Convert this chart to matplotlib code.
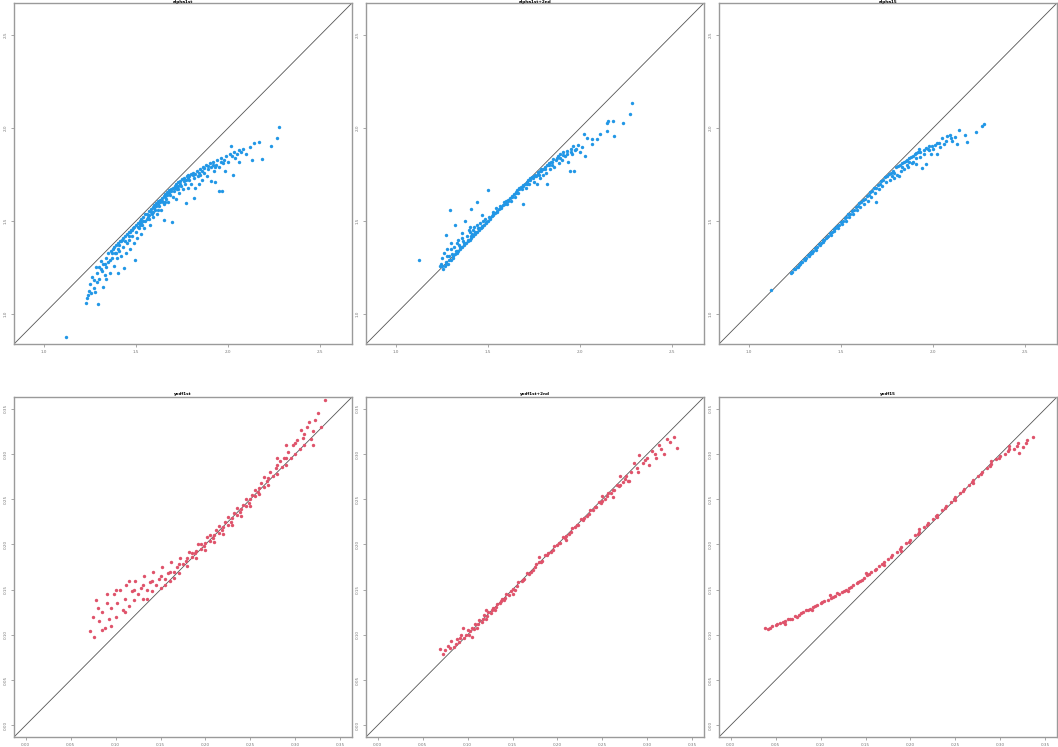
import matplotlib
matplotlib.use("Agg")
import matplotlib.pyplot as plt
import numpy as np

# values (estimated x, y pairs)
alpha1st = [
    (1.123, 0.876), (1.228, 1.06), (1.234, 1.084), (1.246, 1.124), (1.255, 1.115), (1.27, 1.18),
    (1.283, 1.253), (1.292, 1.055), (1.31, 1.285), (1.319, 1.145), (1.26, 1.20), (1.275, 1.14),
    (1.29, 1.22), (1.30, 1.19), (1.30, 1.25), (1.315, 1.23), (1.32, 1.27), (1.33, 1.21),
    (1.335, 1.30), (1.34, 1.25), (1.35, 1.33), (1.35, 1.28), (1.36, 1.22), (1.365, 1.34),
    (1.37, 1.30), (1.375, 1.35), (1.38, 1.26), (1.385, 1.33), (1.39, 1.37), (1.395, 1.30),
    (1.40, 1.38), (1.404, 1.22), (1.41, 1.34), (1.415, 1.39), (1.42, 1.31), (1.425, 1.40),
    (1.43, 1.36), (1.436, 1.249), (1.44, 1.42), (1.445, 1.33), (1.45, 1.43), (1.45, 1.38),
    (1.46, 1.44), (1.465, 1.40), (1.47, 1.35), (1.475, 1.45), (1.48, 1.42), (1.485, 1.46),
    (1.49, 1.38), (1.495, 1.289), (1.50, 1.48), (1.50, 1.44), (1.505, 1.41), (1.51, 1.49),
    (1.515, 1.46), (1.52, 1.50), (1.525, 1.43), (1.53, 1.51), (1.535, 1.48), (1.54, 1.52),
    (1.545, 1.46), (1.55, 1.535), (1.55, 1.50), (1.56, 1.54), (1.565, 1.52), (1.57, 1.555),
    (1.575, 1.48), (1.58, 1.565), (1.585, 1.54), (1.59, 1.575), (1.595, 1.52), (1.60, 1.585),
    (1.605, 1.56), (1.61, 1.595), (1.615, 1.54), (1.62, 1.605), (1.625, 1.58), (1.63, 1.615),
    (1.635, 1.56), (1.64, 1.625), (1.645, 1.60), (1.65, 1.507), (1.65, 1.635), (1.655, 1.59),
    (1.66, 1.645), (1.665, 1.62), (1.67, 1.655), (1.675, 1.60), (1.68, 1.665), (1.685, 1.64),
    (1.69, 1.672), (1.694, 1.496), (1.70, 1.68), (1.70, 1.63), (1.705, 1.66), (1.71, 1.69),
    (1.715, 1.62), (1.72, 1.70), (1.725, 1.67), (1.73, 1.71), (1.735, 1.65), (1.74, 1.715),
    (1.745, 1.69), (1.75, 1.725), (1.755, 1.67), (1.76, 1.73), (1.765, 1.70), (1.772, 1.598),
    (1.775, 1.74), (1.78, 1.68), (1.785, 1.745), (1.79, 1.72), (1.80, 1.755), (1.80, 1.70),
    (1.81, 1.76), (1.815, 1.73), (1.817, 1.625), (1.82, 1.68), (1.83, 1.77), (1.835, 1.74),
    (1.84, 1.70), (1.85, 1.78), (1.85, 1.75), (1.86, 1.72), (1.865, 1.79), (1.87, 1.76),
    (1.88, 1.80), (1.885, 1.74), (1.89, 1.78), (1.90, 1.81), (1.91, 1.715), (1.91, 1.79),
    (1.92, 1.82), (1.925, 1.77), (1.93, 1.711), (1.935, 1.80), (1.94, 1.83), (1.95, 1.66),
    (1.95, 1.79), (1.96, 1.84), (1.966, 1.66), (1.97, 1.81), (1.984, 1.769), (1.99, 1.85),
    (2.00, 1.82), (2.016, 1.905), (2.027, 1.747), (2.03, 1.87), (2.04, 1.84), (2.058, 1.817),
    (2.06, 1.88), (2.08, 1.89), (2.10, 1.86), (2.13, 1.826), (2.14, 1.921), (2.17, 1.927),
    (2.183, 1.835), (2.234, 1.905), (2.266, 1.948), (2.279, 2.007),
    (1.24, 1.10), (1.25, 1.16), (1.28, 1.12), (1.29, 1.17), (1.31, 1.24), (1.33, 1.27),
    (1.34, 1.19), (1.36, 1.29), (1.37, 1.33), (1.38, 1.36), (1.39, 1.33), (1.40, 1.35),
    (1.41, 1.37), (1.42, 1.39), (1.43, 1.41), (1.44, 1.39), (1.46, 1.42), (1.47, 1.44),
    (1.48, 1.45), (1.49, 1.47), (1.51, 1.47), (1.52, 1.48), (1.53, 1.49), (1.54, 1.50),
    (1.56, 1.51), (1.57, 1.53), (1.58, 1.55), (1.59, 1.55), (1.60, 1.57), (1.61, 1.58),
    (1.62, 1.59), (1.63, 1.60), (1.64, 1.61), (1.66, 1.63), (1.67, 1.64), (1.68, 1.65),
    (1.69, 1.66), (1.71, 1.675), (1.72, 1.685), (1.73, 1.69), (1.74, 1.70), (1.76, 1.715),
    (1.77, 1.72), (1.78, 1.73), (1.79, 1.74), (1.81, 1.745), (1.82, 1.755), (1.84, 1.76),
    (1.86, 1.77), (1.87, 1.785), (1.89, 1.795), (1.92, 1.80), (1.93, 1.79), (1.96, 1.82),
    (1.98, 1.83), (2.01, 1.86), (2.02, 1.85), (2.05, 1.86), (2.07, 1.87), (2.12, 1.90),
    (1.57, 1.51), (1.62, 1.56), (1.66, 1.60), (1.73, 1.67),
]

alpha1st2nd = [
    (1.127, 1.292), (1.239, 1.258), (1.245, 1.27), (1.25, 1.30), (1.255, 1.24), (1.26, 1.33),
    (1.265, 1.26), (1.272, 1.425), (1.275, 1.28), (1.28, 1.35), (1.285, 1.27), (1.293, 1.557),
    (1.29, 1.31), (1.30, 1.29), (1.30, 1.38), (1.305, 1.32), (1.31, 1.30), (1.315, 1.36),
    (1.32, 1.478), (1.32, 1.32), (1.325, 1.34), (1.33, 1.33), (1.335, 1.40), (1.34, 1.34),
    (1.345, 1.37), (1.35, 1.35), (1.357, 1.437), (1.36, 1.36), (1.365, 1.39), (1.37, 1.37),
    (1.375, 1.50), (1.38, 1.38), (1.385, 1.42), (1.39, 1.39), (1.395, 1.45), (1.40, 1.40),
    (1.402, 1.468), (1.406, 1.563), (1.41, 1.41), (1.415, 1.43), (1.42, 1.42), (1.425, 1.47),
    (1.43, 1.43), (1.438, 1.604), (1.44, 1.44), (1.445, 1.46), (1.45, 1.45), (1.455, 1.49),
    (1.46, 1.46), (1.466, 1.532), (1.47, 1.47), (1.475, 1.50), (1.48, 1.48), (1.485, 1.51),
    (1.49, 1.49), (1.498, 1.665), (1.50, 1.50), (1.505, 1.52), (1.51, 1.51), (1.52, 1.525),
    (1.525, 1.55), (1.53, 1.535), (1.54, 1.545), (1.545, 1.57), (1.55, 1.555), (1.56, 1.565),
    (1.565, 1.58), (1.57, 1.575), (1.58, 1.585), (1.585, 1.60), (1.59, 1.595), (1.60, 1.605),
    (1.605, 1.59), (1.61, 1.615), (1.62, 1.625), (1.625, 1.61), (1.63, 1.635), (1.64, 1.645),
    (1.645, 1.63), (1.65, 1.655), (1.66, 1.665), (1.665, 1.65), (1.67, 1.675), (1.68, 1.685),
    (1.685, 1.67), (1.692, 1.59), (1.69, 1.695), (1.70, 1.70), (1.705, 1.68), (1.71, 1.71),
    (1.72, 1.72), (1.725, 1.70), (1.73, 1.73), (1.74, 1.735), (1.746, 1.73), (1.75, 1.71),
    (1.755, 1.75), (1.76, 1.74), (1.765, 1.70), (1.77, 1.765), (1.775, 1.745), (1.78, 1.77),
    (1.785, 1.73), (1.79, 1.78), (1.80, 1.778), (1.80, 1.75), (1.81, 1.79), (1.815, 1.76),
    (1.819, 1.70), (1.82, 1.80), (1.83, 1.81), (1.835, 1.78), (1.84, 1.82), (1.85, 1.80),
    (1.855, 1.835), (1.86, 1.79), (1.873, 1.84), (1.88, 1.85), (1.885, 1.81), (1.89, 1.86),
    (1.90, 1.83), (1.91, 1.87), (1.92, 1.85), (1.928, 1.876), (1.935, 1.82), (1.946, 1.769),
    (1.95, 1.89), (1.955, 1.86), (1.964, 1.903), (1.968, 1.769), (1.975, 1.88), (1.99, 1.91),
    (2.00, 1.87), (2.023, 1.969), (2.027, 1.848), (2.036, 1.948), (2.064, 1.912), (2.064, 1.939),
    (2.09, 1.943), (2.109, 1.969), (2.145, 1.984), (2.145, 2.025), (2.15, 2.038), (2.178, 2.038),
    (2.187, 1.957), (2.235, 2.029), (2.272, 2.077), (2.281, 2.133),
    (1.25, 1.26), (1.27, 1.27), (1.29, 1.29), (1.31, 1.31), (1.33, 1.34), (1.35, 1.36),
    (1.37, 1.38), (1.39, 1.40), (1.41, 1.42), (1.43, 1.44), (1.45, 1.46), (1.47, 1.475),
    (1.49, 1.495), (1.51, 1.515), (1.53, 1.53), (1.55, 1.55), (1.57, 1.57), (1.59, 1.59),
    (1.61, 1.61), (1.63, 1.63), (1.65, 1.65), (1.67, 1.67), (1.69, 1.69), (1.71, 1.70),
    (1.73, 1.72), (1.75, 1.74), (1.77, 1.755), (1.79, 1.77), (1.81, 1.78), (1.83, 1.80),
    (1.85, 1.82), (1.87, 1.83), (1.89, 1.84), (1.91, 1.855), (1.93, 1.86), (1.95, 1.87),
    (1.98, 1.89), (2.01, 1.90), (1.33, 1.38), (1.36, 1.41), (1.40, 1.44), (1.44, 1.48),
    (1.28, 1.31), (1.30, 1.35), (1.42, 1.45),
]

alpha15 = [
    (1.123, 1.129), (1.227, 1.222), (1.235, 1.225), (1.245, 1.24), (1.25, 1.24), (1.26, 1.255),
    (1.265, 1.25), (1.27, 1.265), (1.28, 1.27), (1.285, 1.28), (1.29, 1.28), (1.30, 1.295),
    (1.305, 1.29), (1.31, 1.30), (1.32, 1.315), (1.325, 1.31), (1.33, 1.32), (1.34, 1.335),
    (1.345, 1.33), (1.35, 1.34), (1.36, 1.355), (1.365, 1.345), (1.37, 1.36), (1.38, 1.375),
    (1.385, 1.37), (1.39, 1.38), (1.40, 1.395), (1.405, 1.385), (1.41, 1.40), (1.42, 1.41),
    (1.425, 1.415), (1.43, 1.42), (1.44, 1.435), (1.445, 1.425), (1.45, 1.44), (1.46, 1.455),
    (1.465, 1.445), (1.47, 1.46), (1.48, 1.475), (1.485, 1.46), (1.49, 1.48), (1.50, 1.495),
    (1.505, 1.485), (1.51, 1.50), (1.52, 1.515), (1.525, 1.50), (1.53, 1.52), (1.54, 1.535),
    (1.545, 1.52), (1.55, 1.54), (1.56, 1.555), (1.565, 1.54), (1.57, 1.56), (1.58, 1.575),
    (1.585, 1.56), (1.59, 1.58), (1.60, 1.595), (1.605, 1.575), (1.61, 1.60), (1.62, 1.615),
    (1.625, 1.59), (1.63, 1.62), (1.64, 1.635), (1.645, 1.61), (1.65, 1.64), (1.66, 1.655),
    (1.665, 1.63), (1.67, 1.66), (1.68, 1.675), (1.685, 1.65), (1.689, 1.602), (1.69, 1.68),
    (1.70, 1.695), (1.705, 1.67), (1.71, 1.70), (1.72, 1.715), (1.725, 1.69), (1.73, 1.72),
    (1.74, 1.735), (1.745, 1.71), (1.75, 1.74), (1.76, 1.755), (1.765, 1.72), (1.77, 1.76),
    (1.775, 1.74), (1.78, 1.77), (1.788, 1.76), (1.79, 1.73), (1.80, 1.79), (1.805, 1.75),
    (1.81, 1.795), (1.815, 1.742), (1.82, 1.80), (1.825, 1.77), (1.83, 1.81), (1.84, 1.78),
    (1.845, 1.82), (1.851, 1.823), (1.86, 1.83), (1.865, 1.79), (1.87, 1.84), (1.88, 1.845),
    (1.885, 1.81), (1.89, 1.85), (1.90, 1.86), (1.906, 1.805), (1.91, 1.865), (1.92, 1.87),
    (1.924, 1.885), (1.93, 1.845), (1.942, 1.787), (1.95, 1.88), (1.96, 1.805), (1.96, 1.894),
    (1.97, 1.89), (1.978, 1.903), (1.987, 1.859), (1.995, 1.905), (2.01, 1.91), (2.024, 1.862),
    (2.033, 1.921), (2.047, 1.945), (2.06, 1.916), (2.078, 1.957), (2.096, 1.948), (2.105, 1.93),
    (2.132, 1.916), (2.141, 1.989), (2.172, 1.962), (2.185, 1.925), (2.232, 1.978), (2.264, 2.011),
    (2.277, 2.02),
    (1.86, 1.80), (1.89, 1.82), (1.93, 1.87), (1.95, 1.86), (1.98, 1.88), (2.00, 1.89),
    (2.02, 1.92), (2.04, 1.90), (2.07, 1.93), (2.09, 1.96), (2.12, 1.95), (1.83, 1.79),
    (1.87, 1.82), (1.91, 1.84),
]

yodf1st = [
    (0.072, 0.104), (0.076, 0.098), (0.078, 0.138), (0.082, 0.115), (0.085, 0.125), (0.088, 0.108),
    (0.09, 0.135), (0.093, 0.118), (0.095, 0.13), (0.098, 0.145), (0.10, 0.12), (0.102, 0.135),
    (0.105, 0.15), (0.108, 0.128), (0.11, 0.14), (0.112, 0.155), (0.115, 0.132), (0.118, 0.148),
    (0.12, 0.138), (0.122, 0.16), (0.125, 0.145), (0.128, 0.152), (0.13, 0.14), (0.132, 0.165),
    (0.135, 0.15), (0.138, 0.158), (0.14, 0.148), (0.142, 0.17), (0.145, 0.155), (0.148, 0.162),
    (0.15, 0.152), (0.152, 0.175), (0.155, 0.162), (0.158, 0.168), (0.16, 0.16), (0.162, 0.18),
    (0.165, 0.17), (0.168, 0.175), (0.17, 0.168), (0.172, 0.185), (0.175, 0.178), (0.178, 0.182),
    (0.18, 0.176), (0.182, 0.192), (0.185, 0.186), (0.188, 0.19), (0.19, 0.185), (0.192, 0.2),
    (0.195, 0.195), (0.198, 0.198), (0.20, 0.194), (0.202, 0.208), (0.205, 0.204), (0.208, 0.207),
    (0.21, 0.203), (0.212, 0.216), (0.215, 0.213), (0.218, 0.216), (0.22, 0.212), (0.222, 0.225),
    (0.225, 0.222), (0.228, 0.225), (0.23, 0.222), (0.232, 0.235), (0.235, 0.232), (0.238, 0.236),
    (0.24, 0.231), (0.242, 0.244), (0.245, 0.242), (0.248, 0.246), (0.25, 0.243), (0.252, 0.255),
    (0.255, 0.253), (0.258, 0.258), (0.26, 0.256), (0.262, 0.268), (0.265, 0.264), (0.268, 0.27),
    (0.27, 0.266), (0.272, 0.28), (0.275, 0.276), (0.278, 0.284), (0.28, 0.278), (0.283, 0.292),
    (0.285, 0.286), (0.287, 0.296), (0.29, 0.288), (0.292, 0.302), (0.295, 0.295), (0.297, 0.31),
    (0.30, 0.30), (0.302, 0.315), (0.305, 0.306), (0.306, 0.327), (0.308, 0.318), (0.31, 0.31),
    (0.313, 0.33), (0.317, 0.316), (0.32, 0.325), (0.322, 0.338), (0.333, 0.36),
    (0.075, 0.12), (0.08, 0.13), (0.085, 0.105), (0.09, 0.145), (0.095, 0.11), (0.10, 0.15),
    (0.11, 0.125), (0.115, 0.16), (0.12, 0.15), (0.13, 0.155), (0.135, 0.14), (0.14, 0.16),
    (0.15, 0.165), (0.155, 0.155), (0.16, 0.17), (0.165, 0.163), (0.17, 0.178), (0.18, 0.185),
    (0.19, 0.193), (0.20, 0.202), (0.21, 0.21), (0.22, 0.219), (0.23, 0.229), (0.24, 0.239),
    (0.25, 0.25), (0.26, 0.262), (0.27, 0.273), (0.28, 0.288), (0.29, 0.296), (0.30, 0.312),
    (0.31, 0.322), (0.315, 0.335), (0.32, 0.31), (0.325, 0.345), (0.328, 0.33), (0.29, 0.31),
    (0.28, 0.295), (0.265, 0.275), (0.255, 0.26), (0.245, 0.25), (0.235, 0.24), (0.225, 0.23),
    (0.215, 0.22), (0.205, 0.21), (0.195, 0.20), (0.185, 0.19),
]

yodf1st2nd = [
    (0.069, 0.084), (0.073, 0.079), (0.078, 0.088), (0.082, 0.093), (0.085, 0.087), (0.088, 0.095),
    (0.09, 0.092), (0.093, 0.10), (0.095, 0.108), (0.096, 0.097), (0.10, 0.105), (0.102, 0.10),
    (0.105, 0.108), (0.105, 0.098), (0.108, 0.112), (0.11, 0.108), (0.113, 0.116), (0.116, 0.114),
    (0.118, 0.122), (0.12, 0.118), (0.12, 0.128), (0.123, 0.125), (0.126, 0.124), (0.128, 0.13),
    (0.13, 0.128), (0.133, 0.134), (0.136, 0.135), (0.138, 0.14), (0.14, 0.138), (0.143, 0.145),
    (0.146, 0.144), (0.15, 0.151), (0.15, 0.145), (0.153, 0.15), (0.156, 0.158), (0.16, 0.16),
    (0.163, 0.162), (0.166, 0.168), (0.17, 0.17), (0.173, 0.172), (0.176, 0.178), (0.18, 0.18),
    (0.18, 0.186), (0.183, 0.182), (0.186, 0.188), (0.19, 0.19), (0.193, 0.192), (0.196, 0.198),
    (0.20, 0.199), (0.203, 0.202), (0.206, 0.208), (0.21, 0.209), (0.21, 0.205), (0.213, 0.212),
    (0.216, 0.218), (0.22, 0.219), (0.223, 0.221), (0.226, 0.228), (0.23, 0.229), (0.233, 0.231),
    (0.236, 0.238), (0.24, 0.238), (0.243, 0.241), (0.246, 0.247), (0.25, 0.248), (0.25, 0.254),
    (0.253, 0.25), (0.256, 0.257), (0.26, 0.257), (0.262, 0.252), (0.263, 0.26), (0.266, 0.266),
    (0.27, 0.266), (0.27, 0.276), (0.273, 0.269), (0.276, 0.276), (0.278, 0.27), (0.28, 0.27),
    (0.285, 0.29), (0.29, 0.28), (0.291, 0.299), (0.295, 0.29), (0.30, 0.295), (0.302, 0.288),
    (0.305, 0.303), (0.31, 0.296), (0.313, 0.31), (0.318, 0.30), (0.322, 0.316), (0.33, 0.319),
    (0.333, 0.307),
    (0.075, 0.083), (0.08, 0.085), (0.087, 0.09), (0.092, 0.096), (0.098, 0.10), (0.103, 0.104),
    (0.107, 0.106), (0.112, 0.112), (0.117, 0.118), (0.122, 0.121), (0.127, 0.128), (0.132, 0.131),
    (0.137, 0.137), (0.142, 0.141), (0.148, 0.148), (0.155, 0.154), (0.162, 0.161), (0.168, 0.167),
    (0.175, 0.175), (0.182, 0.181), (0.188, 0.188), (0.195, 0.194), (0.202, 0.201), (0.208, 0.207),
    (0.215, 0.214), (0.222, 0.221), (0.228, 0.227), (0.235, 0.234), (0.242, 0.241), (0.248, 0.246),
    (0.255, 0.253), (0.262, 0.26), (0.268, 0.265), (0.275, 0.272), (0.282, 0.28), (0.288, 0.284),
    (0.297, 0.293), (0.308, 0.30), (0.315, 0.305), (0.325, 0.313),
]

yodf15 = [
    (0.038, 0.108), (0.042, 0.106), (0.046, 0.11), (0.05, 0.111), (0.055, 0.113), (0.06, 0.115),
    (0.064, 0.117), (0.068, 0.118), (0.072, 0.121), (0.076, 0.122), (0.08, 0.125), (0.084, 0.127),
    (0.088, 0.129), (0.092, 0.131), (0.096, 0.133), (0.10, 0.135), (0.104, 0.137), (0.108, 0.139),
    (0.112, 0.141), (0.116, 0.143), (0.12, 0.145), (0.124, 0.147), (0.128, 0.15), (0.132, 0.152),
    (0.136, 0.155), (0.14, 0.157), (0.144, 0.16), (0.148, 0.163), (0.152, 0.166), (0.156, 0.169),
    (0.16, 0.172), (0.165, 0.176), (0.17, 0.18), (0.175, 0.184), (0.18, 0.188), (0.185, 0.192),
    (0.19, 0.197), (0.195, 0.201), (0.20, 0.205), (0.205, 0.21), (0.21, 0.214), (0.215, 0.219),
    (0.22, 0.224), (0.225, 0.228), (0.23, 0.233), (0.235, 0.238), (0.24, 0.242), (0.245, 0.247),
    (0.25, 0.252), (0.255, 0.257), (0.26, 0.261), (0.265, 0.266), (0.27, 0.271), (0.275, 0.276),
    (0.28, 0.28), (0.285, 0.285), (0.29, 0.289), (0.295, 0.294), (0.30, 0.298), (0.305, 0.30),
    (0.31, 0.305), (0.315, 0.306), (0.32, 0.312), (0.321, 0.301), (0.325, 0.308), (0.33, 0.315),
    (0.336, 0.319), (0.06, 0.112), (0.09, 0.127), (0.11, 0.144), (0.13, 0.149), (0.15, 0.168),
    (0.17, 0.177), (0.19, 0.193), (0.21, 0.217), (0.23, 0.23), (0.25, 0.249), (0.27, 0.268),
    (0.29, 0.292), (0.31, 0.309),
    (0.044, 0.107), (0.052, 0.112), (0.058, 0.114), (0.066, 0.118), (0.074, 0.12), (0.078, 0.124),
    (0.086, 0.128), (0.094, 0.132), (0.102, 0.136), (0.114, 0.142), (0.118, 0.146), (0.126, 0.149),
    (0.134, 0.153), (0.142, 0.158), (0.146, 0.161), (0.154, 0.167), (0.162, 0.173), (0.168, 0.178),
    (0.178, 0.186), (0.188, 0.195), (0.198, 0.203), (0.208, 0.212), (0.218, 0.221), (0.228, 0.231),
    (0.238, 0.24), (0.248, 0.25), (0.258, 0.259), (0.268, 0.269), (0.278, 0.278), (0.288, 0.287),
    (0.298, 0.296), (0.308, 0.303), (0.318, 0.309), (0.328, 0.312),
]

alpha_titles = ["alpha1st", "alpha1st+2nd", "alpha15"]
yodf_titles = ["yodf1st", "yodf1st+2nd", "yodf15"]
alpha_ticks = [1.0, 1.5, 2.0, 2.5]
alpha_ticklabels = ["1.0", "1.5", "2.0", "2.5"]
yodf_ticks = [0.00, 0.05, 0.10, 0.15, 0.20, 0.25, 0.30, 0.35]
yodf_ticklabels = ["0.00", "0.05", "0.10", "0.15", "0.20", "0.25", "0.30", "0.35"]

alpha_lim = (0.838, 2.673)
yodf_lim = (-0.013, 0.363)
blue = "#2297E6"
red = "#DF536B"

W, H = 1058, 747
fig = plt.figure(figsize=(W / 100, H / 100), dpi=100)

col_left = [14, 366, 719]
col_w = 338


def panel(left_px, top_px, bottom_px, pts, title, lim, ticks, labels, color):
    ax = fig.add_axes([left_px / W, 1 - bottom_px / H, col_w / W, (bottom_px - top_px) / H])
    arr = np.array(pts)
    ax.plot(lim, lim, color="#555555", lw=0.6, zorder=1)
    ax.scatter(arr[:, 0], arr[:, 1], s=6, color=color, linewidths=0, zorder=2)
    ax.set_xlim(lim)
    ax.set_ylim(lim)
    ax.set_xticks(ticks)
    ax.set_xticklabels(labels)
    ax.set_yticks(ticks)
    ax.set_yticklabels(labels, rotation=90, va="center")
    ax.tick_params(length=2.5, width=0.6, colors="#9a9a9a", labelsize=3, pad=2,
                   labelcolor="#777777")
    for s in ax.spines.values():
        s.set_color("#9a9a9a")
        s.set_linewidth(1.0)
    # title sits just above the frame; top row titles are pinned to the figure edge
    cx = (left_px + col_w / 2) / W
    if top_px < 10:
        fig.text(cx, 1.0, title, ha="center", va="top", fontsize=3, fontweight="bold")
    else:
        fig.text(cx, 1 - (top_px - 1.5) / H, title, ha="center", va="bottom",
                 fontsize=3, fontweight="bold")
    return ax


alpha_sets = [alpha1st, alpha1st2nd, alpha15]
yodf_sets = [yodf1st, yodf1st2nd, yodf15]
for i in range(3):
    panel(col_left[i], 3, 344, alpha_sets[i], alpha_titles[i], alpha_lim,
          alpha_ticks, alpha_ticklabels, blue)
    panel(col_left[i], 397, 737, yodf_sets[i], yodf_titles[i], yodf_lim,
          yodf_ticks, yodf_ticklabels, red)

fig.savefig("out.png", dpi=100)
